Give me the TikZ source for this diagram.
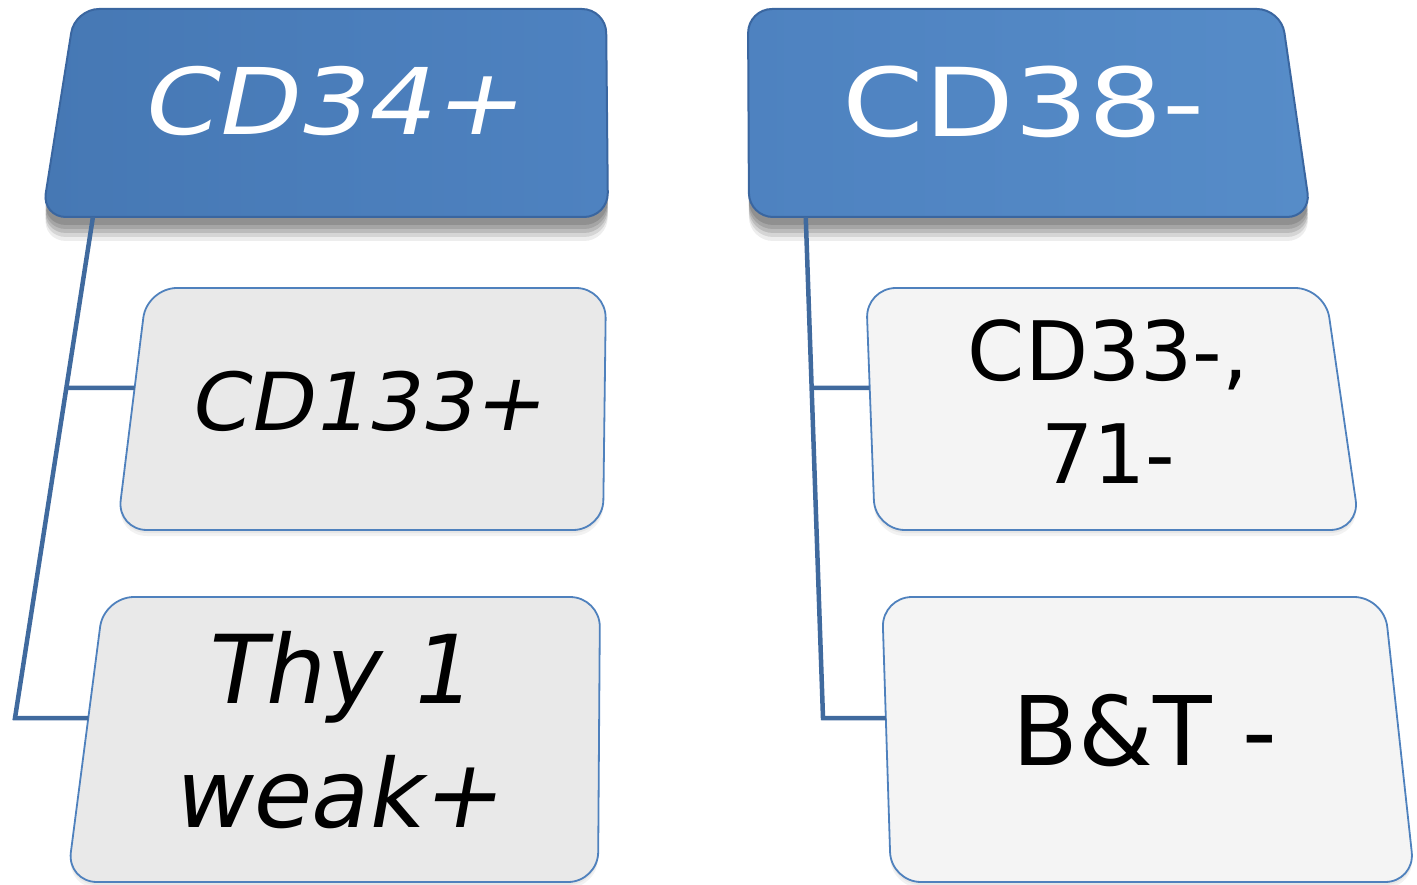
\documentclass[tikz,border=0pt]{standalone}
\usepackage{fontspec}
\setmainfont{DejaVu Sans}
\newfontfamily\tiltfont{DejaVu Sans}[FakeSlant=0.18]
\usetikzlibrary{calc}
\definecolor{headblue}{RGB}{70,120,180}
\definecolor{headmid}{RGB}{78,130,192}
\definecolor{headlight}{RGB}{86,140,200}
\definecolor{headrim}{RGB}{58,102,160}
\definecolor{rimblue}{RGB}{79,129,189}
\definecolor{linkblue}{RGB}{64,106,158}
\definecolor{leafleft}{RGB}{233,233,233}
\definecolor{leafright}{RGB}{244,244,244}

% soft shadows under the cards
\tikzset{
  headcast/.style={
    preaction={fill=black, fill opacity=0.12, transform canvas={yshift=-8pt}},
    preaction={fill=black, fill opacity=0.12, transform canvas={yshift=-12pt}},
    preaction={fill=black, fill opacity=0.12, transform canvas={yshift=-16pt}},
    preaction={fill=black, fill opacity=0.10, transform canvas={yshift=-20pt}},
    preaction={fill=black, fill opacity=0.07, transform canvas={yshift=-24pt}}},
  leafcast/.style={
    preaction={fill=black, fill opacity=0.05, transform canvas={yshift=-3pt}},
    preaction={fill=black, fill opacity=0.05, transform canvas={yshift=-6pt}}},
}

% name, corners tl tr br bl, style
\newcommand{\card}[6]{%
  \coordinate (#1-tl) at #2;
  \coordinate (#1-tr) at #3;
  \coordinate (#1-br) at #4;
  \coordinate (#1-bl) at #5;
  \path[#6] (#1-tl) -- (#1-tr) -- (#1-br) -- (#1-bl) -- cycle;
}

\begin{document}
\begin{tikzpicture}[x=1pt, y=-1pt,
    headbox/.style={rounded corners=24pt, draw=headrim, line width=2pt, headcast},
    leafbox/.style={rounded corners=30pt, draw=rimblue, line width=1.8pt, leafcast},
    link/.style={draw=linkblue, line width=4.5pt},
    headtext/.style={text=white, inner sep=0pt, anchor=base},
    leaftext/.style={text=black, inner sep=0pt, align=center, anchor=base}
]
    \useasboundingbox (0,0) rectangle (1417,885);

    % left group
    \card{hl}{(75,9)}{(606,9)}{(608,217)}{(42,217)}{headbox, left color=headblue, right color=headmid}
    \card{la}{(147,288)}{(606,288)}{(603,530)}{(117,530)}{leafbox, fill=leafleft}
    \card{lb}{(104,597)}{(600,597)}{(598,882)}{(67,882)}{leafbox, fill=leafleft}

    % right group
    \card{hr}{(748,9)}{(1281,9)}{(1311,217)}{(749,217)}{headbox, left color=headmid, right color=headlight}
    \card{ra}{(866,288)}{(1325,288)}{(1360,530)}{(875,530)}{leafbox, fill=leafright}
    \card{rb}{(882,597)}{(1384,597)}{(1415,882)}{(891,882)}{leafbox, fill=leafright}

    % connectors
    \coordinate (lfoot) at ($(hl-bl)!0.09!(hl-br)$);
    \coordinate (lknee) at (15,718);
    \coordinate (ltee) at ($(lfoot)!0.341!(lknee)$);
    \coordinate (laport) at ($(la-tl)!0.413!(la-bl)$);
    \coordinate (lbport) at ($(lb-tl)!0.425!(lb-bl)$);
    \draw[link] (lfoot) -- (lknee) -- (lbport);
    \draw[link] (ltee) -- (laport);

    \coordinate (rfoot) at ($(hr-bl)!0.101!(hr-br)$);
    \coordinate (rknee) at (823,718);
    \coordinate (rtee) at ($(rfoot)!0.341!(rknee)$);
    \coordinate (raport) at ($(ra-tl)!0.413!(ra-bl)$);
    \coordinate (rbport) at ($(rb-tl)!0.425!(rb-bl)$);
    \draw[link] (rfoot) -- (rknee) -- (rbport);
    \draw[link] (rtee) -- (raport);

    % labels
    \node[headtext, font=\tiltfont\fontsize{92}{110}\selectfont] (t34) at (330,135) {\scalebox{1.16}[1]{CD34+}};
    \node[headtext, font=\fontsize{95}{110}\selectfont] (t38) at (1024,137) {\scalebox{1.23}[1]{CD38-}};
    \node[leaftext, font=\tiltfont\fontsize{80}{96}\selectfont] (t133) at (366,430) {\scalebox{1.05}[1]{CD133+}};
    \node[leaftext, font=\tiltfont\fontsize{95}{124}\selectfont] (tthy) at (336,827) {Thy 1\\weak+};
    \node[leaftext, font=\fontsize{82}{103}\selectfont] (t33) at (1108,483) {CD33-,\\71-};
    \node[leaftext, font=\fontsize{96}{110}\selectfont] (tbt) at (1145,765) {B\&T -};
\end{tikzpicture}
\end{document}
